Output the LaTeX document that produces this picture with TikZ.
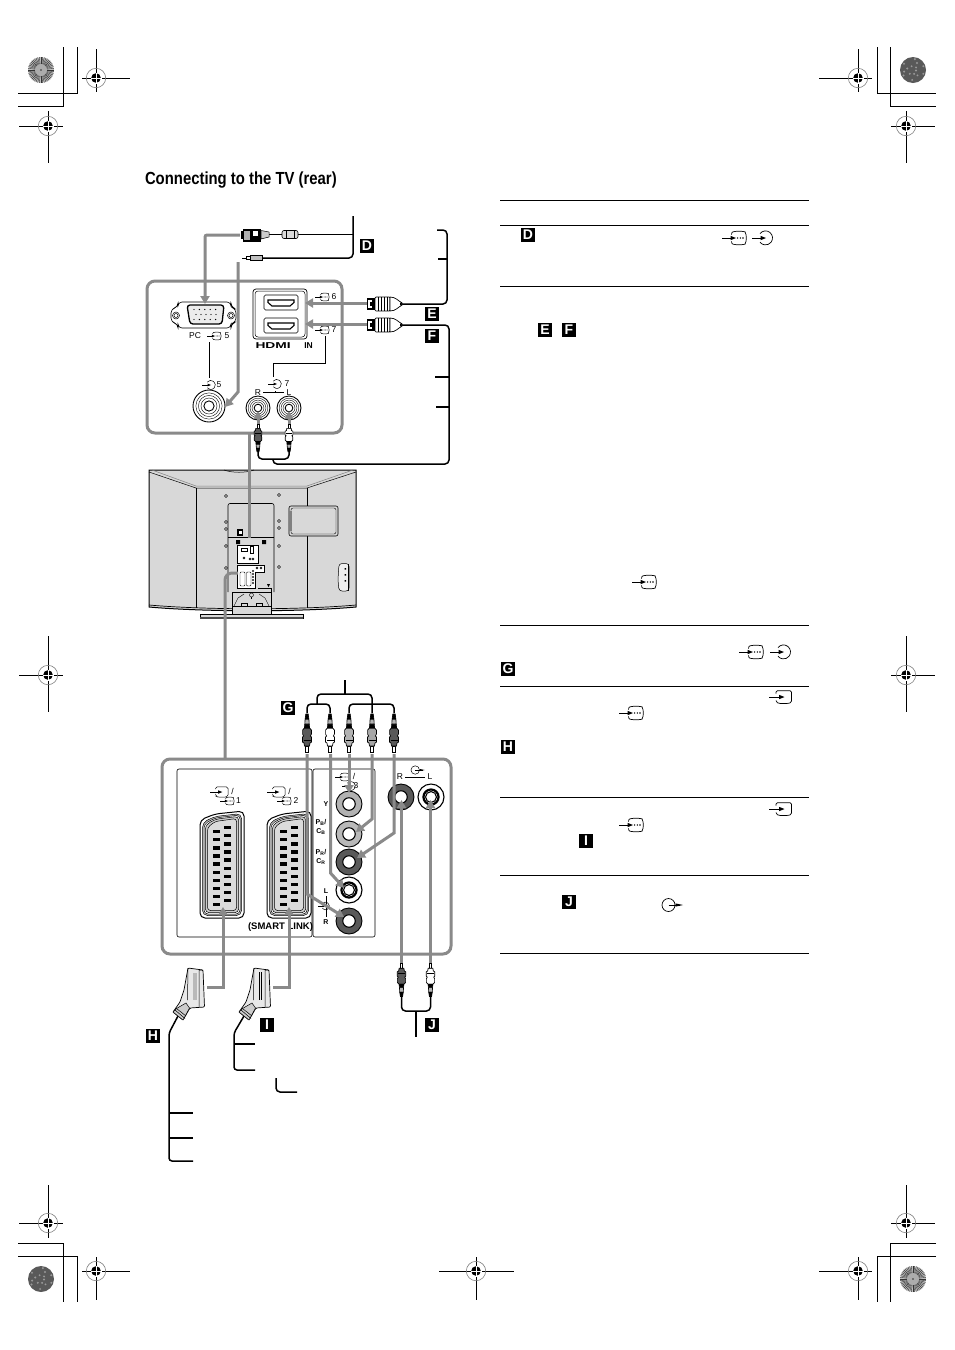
\documentclass[tikz,border=0pt]{standalone}
\usepackage{fontspec}
\setmainfont{Liberation Sans}
\usetikzlibrary{arrows.meta}
\definecolor{cbl}{HTML}{8A8A8A}
\definecolor{tvg}{HTML}{D8D8D8}
\tikzset{
  every node/.style={inner sep=0pt,outer sep=0pt},
  cable/.style={draw=cbl,line width=3pt},
  garrow/.style={draw=cbl,line width=3pt,-{Triangle[length=8pt,width=9pt]}},
  wire/.style={draw=black,line width=1.5pt,rounded corners=4pt},
  crop/.style={line width=.8pt},
  rule/.style={line width=.9pt},
  thinl/.style={line width=.5pt},
  tag/.style={fill=black,text=white,minimum width=14.5pt,minimum height=14.5pt,font=\bfseries\fontsize{14}{14}\selectfont},
  lab/.style={font=\fontsize{8.5}{8.5}\selectfont},
  labb/.style={font=\bfseries\fontsize{7}{7}\selectfont},
}
\newcommand\regm[6]{%
  \draw[crop] (#1-#3,#2)--(#1+#4,#2) (#1,#2-#5)--(#1,#2+#6);
  \draw[gray,line width=.6pt] (#1,#2) circle (9.7);
  \fill (#1,#2) circle (4.8);
  \draw[white,line width=.7pt] (#1-5.5,#2)--(#1+5.5,#2) (#1,#2-5.5)--(#1,#2+5.5);
}
\newcommand\spokeball[2]{%
  \fill[gray!50] (#1,#2) circle (13);
  \foreach \a in {0,7.5,...,352.5}{\draw[line width=.4pt,black!80] (#1,#2) ++(\a:5.5) -- ++(\a:7.5);}
  \fill[gray!65] (#1,#2) circle (6);
  \fill[black!80] (#1,#2) circle (.9);
}
\newcommand\darkball[2]{%
  \fill[black!65] (#1,#2) circle (13);
  \foreach \a/\r in {10/3,50/7,95/10,130/5,170/9,215/11,250/4,300/8,340/11,20/11,75/4,150/11,195/6,280/11,320/4}{\fill[black!40] (#1,#2) ++(\a:\r) circle (1.1);}
}
% input symbols: origin at left end, vertically centred
\newcommand\symTV[4]{\begin{scope}[shift={(#1,#2)},scale=#3,line width=#4]
  \draw (0,0)--(10,0);\fill (8.5,-2.2)--(14,0)--(8.5,2.2)--cycle;
  \draw (9.5,-3.4) .. controls (9.6,-5) and (10,-6) .. (11,-6.2) .. controls (15,-7) and (19,-7) .. (23,-6.2) .. controls (24.8,-3) and (24.8,3) .. (23,6.2) .. controls (19,7) and (15,7) .. (11,6.2) .. controls (10,6) and (9.6,5) .. (9.5,3.4);
  \fill (15.6,0) circle (.8) (18.4,0) circle (.8) (21,0) circle (.8);
\end{scope}}
\newcommand\symIn[4]{\begin{scope}[shift={(#1,#2)},scale=#3,line width=#4]
  \draw (0,0)--(10,0);\fill (8.5,-2.2)--(14,0)--(8.5,2.2)--cycle;
  \draw (8,-4.4) arc[start angle=-142,end angle=142,radius=7] ;
\end{scope}}
\newcommand\symBox[4]{\begin{scope}[shift={(#1,#2)},scale=#3,line width=#4]
  \draw (0,0)--(11,0);\fill (10,-2.2)--(15.5,0)--(10,2.2)--cycle;
  \draw[rounded corners=1.5pt] (7,-3.5)--(7,-6.3)--(22.5,-6.3)--(22.5,5.5)--(19,6.5)--(10,6.5)--(7,5)--(7,3.5);
\end{scope}}
\newcommand\symOut[4]{\begin{scope}[shift={(#1,#2)},scale=#3,line width=#4]
  \draw (6.5,0) circle (6.5);
  \draw (6.5,0)--(18,0);\fill (13.5,-1.6)--(21,0)--(13.5,1.6)--cycle;
\end{scope}}
% RCA plug: tip at (#1,#2), #3 direction (1 = cable below tip, -1 = cable above), #4 fill, #5 length scale
\newcommand\rca[5]{\begin{scope}[shift={(#1,#2)},xscale={(1+#5)/2},yscale=#3*#5,line width=.6pt]
  \draw[fill=white] (-1.3,0)--(1.3,0)--(1.3,6)--(-1.3,6)--cycle;
  \draw[fill=#4,line width=.7pt] (-2.5,6)--(2.5,6)--(3,9)--(4.5,10)--(4.5,15)--(3.4,16)--(4.4,18)--(4.4,22)--(2.6,24)--(-2.6,24)--(-4.4,22)--(-4.4,18)--(-3.4,16)--(-4.5,15)--(-4.5,10)--(-3,9)--cycle;
  \draw[fill=black] (-2.6,24)--(2.6,24)--(2.2,28)--(-2.2,28)--cycle;
  \draw[fill=gray!60] (-2.2,28)--(2.2,28)--(1.9,33)--(-1.9,33)--cycle;
  \draw[fill=black] (-1.9,33)--(1.9,33)--(1.2,38)--(-1.2,38)--cycle;
  \draw[line width=.4pt] (-3.5,12)--(3.5,12);
\end{scope}}
\newcommand\jackd[4]{%
  \draw[line width=.9pt,fill=#4] (#1,#2) circle (#3);
  \draw[line width=1.1pt,fill=white] (#1,#2) circle (.48*#3);
}
\newcommand\jackw[3]{%
  \draw[line width=.9pt,fill=white] (#1,#2) circle (#3);
  \draw[line width=.4pt] (#1,#2) circle (.82*#3);
  \draw[line width=.4pt] (#1,#2) circle (.66*#3);
  \draw[line width=.4pt] (#1,#2) circle (.5*#3);
  \draw[line width=.9pt,fill=white] (#1,#2) circle (.32*#3);
}
\newcommand\jackl[3]{%
  \draw[line width=1.1pt,fill=white] (#1,#2) circle (#3);
  \draw[line width=2.2pt] (#1,#2) circle (.58*#3);
  \draw[line width=1.1pt,fill=white] (#1,#2) circle (.42*#3);
}
\newcommand\hdmiplug[2]{\begin{scope}[shift={(#1,#2)},line width=.7pt]
  \fill (0,-6.2) rectangle (8,6.2);
  \fill[white] (1.4,-3.8) rectangle (5,3.8);
  \fill (3,-1.6) rectangle (8,1.6);
  \draw[fill=white,rounded corners=1pt] (8,-7) rectangle (23,7);
  \foreach \v in {11,14,17,20}{\draw[line width=.9pt] (\v,-7)--(\v,7);}
  \draw[fill=white] (23,-7) .. controls (29,-7) and (31,-3) .. (35,-1.2) -- (35,1.2) .. controls (31,3) and (29,7) .. (23,7) -- cycle;
  \fill (33,-1.6) -- (36,0) -- (33,1.6) -- cycle;
\end{scope}}
\newcommand\scartsh[2]{% centre x, inset
  (#1-22+#2,820+#2) -- (#1-7,814+#2) -- (#1+22-#2,811+#2) -- (#1+22-#2,918-#2) -- (#1-22+#2,918-#2) -- cycle}
\newcommand\scart[1]{%
  \draw[line width=1pt,fill=white,rounded corners=5pt] \scartsh{#1}{0};
  \draw[line width=.5pt,fill=gray!45,rounded corners=5pt] \scartsh{#1}{2.5};
  \draw[line width=.5pt,fill=white,rounded corners=4pt] \scartsh{#1}{4};
  \draw[line width=.5pt,fill=gray!40,rounded corners=4pt] \scartsh{#1}{5.3};
  \draw[line width=.5pt,fill=gray!28,rounded corners=3pt] \scartsh{#1}{7.5};
  \foreach \k in {0,...,9}{
    \fill (#1-9.5,830+8.1*\k) rectangle ++(7.5,3.3);
    \fill (#1+1.7,826+8.1*\k) rectangle ++(7.5,3.3);
  }
}
\newcommand\scartplug[1]{\begin{scope}[shift={(#1,0)},line width=.7pt]
  \draw[fill=gray!18,rounded corners=1pt] (188,968)--(203,970)--(204.5,1007)--(190,1008)--(183,1020)--(173,1012)--(180,1002)--(184,990)--cycle;
  \draw[line width=.5pt,fill=gray!40] (176.5,1008.5)--(186,1003)--(189.5,1008)--(183,1020)--(173,1012)--cycle;
  \draw[line width=.5pt] (175,1010)--(185,1018.5) (176.5,1008.5)--(186,1016);
  \draw[line width=.5pt] (188,968)--(187.5,1000) (203,970)--(199,970)--(199,1007);
\end{scope}}
\begin{document}
\begin{tikzpicture}[x=1pt,y=-1pt]
\useasboundingbox (0,0) rectangle (954,1350);
\fill[white] (0,0) rectangle (954,1350);
% ---- print marks
\draw[crop] (63,47)--(63,106)--(18,106) (77,47)--(77,93)--(18,93);
\draw[crop] (877,47)--(877,93)--(936,93) (890,47)--(890,106)--(936,106);
\draw[crop] (18,1243)--(63,1243)--(63,1302) (18,1256)--(77,1256)--(77,1302);
\draw[crop] (936,1243)--(890,1243)--(890,1302) (936,1256)--(877,1256)--(877,1302);
\regm{96}{78}{14}{34}{29}{14}
\regm{48}{126}{29}{15}{15}{37}
\regm{858}{78}{39}{14}{29}{14}
\regm{906}{126}{15}{29}{15}{37}
\regm{48}{1223}{29}{15}{38}{15}
\regm{96}{1271}{14}{34}{14}{29}
\regm{906}{1223}{15}{29}{38}{15}
\regm{858}{1271}{39}{14}{14}{29}
\regm{476}{1271}{37}{38}{14}{29}
\regm{48}{675}{29}{15}{39}{37}
\regm{906}{675}{15}{29}{39}{37}
\spokeball{41}{70}
\darkball{913}{70}
\darkball{41}{1279}
\spokeball{913}{1279}
% ---- title
\node[anchor=west] (title) at (145,180) {\scalebox{.85}[1]{\bfseries\fontsize{17.5}{18}\selectfont Connecting to the TV (rear)}};
% ---- right column rules
\foreach \ry in {200,225,286,625,686,797,875,953}{\draw[rule] (500,\ry)--(809,\ry);}
\node[tag] (tD2) at (528,235) {D};
\node[tag] (tE2) at (545,330) {E};
\node[tag] (tF2) at (569,330) {F};
\node[tag] (tG2) at (508,669) {G};
\node[tag] (tH2) at (508,747) {H};
\node[tag] (tI2) at (586,841) {I};
\node[tag] (tJ2) at (569,902) {J};
\symTV{722}{238}{1}{.7pt}\symIn{752}{238}{1}{.7pt}
\symTV{632}{582}{1}{.7pt}
\symTV{739}{652}{1}{.7pt}\symIn{770}{652}{1}{.7pt}
\symBox{769}{697}{1}{.7pt}\symTV{619}{713}{1}{.7pt}
\symBox{769}{809}{1}{.7pt}\symTV{619}{825}{1}{.7pt}
\symOut{662}{905}{1}{.7pt}
% ---- TV rear
\draw[line width=1pt,fill=tvg] (149,470)--(356,470)--(356,607) .. controls (300,612) and (205,612) .. (149,607)--cycle;
\draw[line width=.5pt] (149,472)--(196,488)--(307,488)--(356,472);
\draw[line width=.5pt,gray] (152,470)--(196,486)--(307,486)--(353,470);
\draw[line width=.7pt] (196,488)--(196,608) (307,488)--(307,608);
\draw[line width=.7pt] (149,605) .. controls (205,610) and (300,610) .. (356,605);
\draw[line width=.5pt] (224,470) .. controls (232,473) and (246,473) .. (254,470);
\draw[line width=.6pt,rounded corners=2pt] (228,592)--(228,503.5)--(274,503.5)--(274,592);
\draw[line width=.5pt] (228,537)--(274,537);
\fill (237,529) rectangle (243,536);
\fill[white] (238.5,530.5) rectangle (241.5,534);
\fill (236,540) rectangle (240,544) (262,540) rectangle (266,544);
\draw[line width=1pt,fill=white] (237,545) rectangle (258,563);
\draw[line width=.4pt] (241,548.5) rectangle (247,551.5) (250,546.5) rectangle (253,553);
\draw[line width=.4pt] (244,558) circle (1) (250,559) circle (1) (253,559) circle (1);
\draw[line width=1pt,fill=white] (237,565.5)--(264,565.5)--(264,572)--(255,572)--(255,588)--(237,588)--cycle;
\draw[line width=.4pt,rounded corners=1pt] (240,572) rectangle (245,586) (246.5,572) rectangle (251,586);
\foreach \v in {571,574,577,580,583}{\draw[line width=.4pt] (253,\v) circle (.8);}
\foreach \v in {568}{\draw[line width=.4pt] (257,\v) circle (1) (261,\v) circle (1);}
\draw[line width=.7pt] (258,588)--(271,588)--(271,592)--(258,592);
\fill (267,584)--(270,584)--(268.5,587)--cycle;
\draw[line width=.6pt] (232,606)--(232,592)--(271,592)--(271,606);
\draw[line width=.4pt] (234,606)--(238,598)--(244,594) (269,606)--(265,598)--(259,594);
\draw[line width=.4pt] (241,606)--(241,603)--(247,603)--(247,606) (256,606)--(256,603)--(262,603)--(262,606);
\draw[line width=.4pt] (251.5,595) circle (2);
\fill (251,597) rectangle (252,599);
\foreach \hx/\hy in {226/496,279/495,226/522,226/529,279/521,279/528,226/546,279/546,226/568,279/567}{\draw[line width=.4pt,fill=white] (\hx,\hy-1.5)--(\hx+1.5,\hy)--(\hx,\hy+1.5)--(\hx-1.5,\hy)--cycle;}
\draw[line width=.6pt,rounded corners=2pt,fill=tvg] (289,506) rectangle (338,536);
\draw[line width=.4pt,rounded corners=2pt] (291,508) rectangle (336,534);
\fill[gray] (289,511) rectangle (291.5,531);
\draw[line width=.5pt,rounded corners=3pt,fill=white!60!tvg] (339,563.5)--(349,563.5)--(349,591)--(339,591)--(338,580)--cycle;
\fill (347.5,563.5) rectangle (349,591);
\fill (344.5,568) rectangle (346,569.5) (344.5,574) rectangle (346,575.5) (344.5,580) rectangle (346,581.5);
\draw[line width=.7pt,fill=tvg] (232,606) rectangle (271,614);
\draw[line width=.7pt,fill=tvg] (200,614) rectangle (303,618);
\fill[black!70] (200,617) rectangle (303,618.5);
% ---- upper panel
\draw[cable,rounded corners=8pt] (147,281) rectangle (342,433);
\draw[cable] (249.5,433)--(249.5,538);
\draw[cable,rounded corners=7pt] (238,573)--(225,573)--(225,759);
% VGA
\draw[line width=.6pt,rounded corners=4pt] (178,302)--(231,302)--(231,307) -- (236,309) -- (236,322) -- (231,324)--(231,328)--(178,328)--(178,324)--(171,322)--(171,309)--(178,307)--cycle;
\draw[line width=.5pt] (176,315.5) circle (3.5) (176,315.5) circle (2);
\draw[line width=.5pt] (231,315.5) circle (3.5) (231,315.5) circle (2);
\draw[line width=1.3pt,rounded corners=3pt,fill=gray!15] (187,305)--(224,305)--(222,324)--(190,324)--cycle;
\foreach \a in {0,...,4}{\fill (194+\a*5.4,309.5) circle (.7) (196+\a*5,314.5) circle (.7) (194+\a*5.4,319.5) circle (.7);}
\node[lab] (pc) at (195,336) {PC};
\symTV{207}{336}{.58}{.5pt}
\node[lab] (n5a) at (227,336) {5};
\draw[thinl] (209,342)--(209,378);
\symIn{202}{385}{.65}{.5pt}
\node[lab] (n5b) at (219,385) {5};
\jackw{209}{406}{16}
% HDMI
\draw[line width=.7pt,rounded corners=3pt] (253,289) rectangle (307,339);
\draw[line width=.5pt,rounded corners=3pt] (255,291) rectangle (305,337);
\foreach \py in {295,318}{
  \draw[line width=.6pt,rounded corners=1.5pt,fill=white] (264,\py) rectangle (298,\py+15);
  \draw[line width=1.1pt] (268,\py+5)--(294,\py+5)--(294,\py+7.5)--(290,\py+11)--(272,\py+11)--(268,\py+7.5)--cycle;
}
\symTV{315}{297}{.58}{.5pt}
\node[lab] (n6) at (334,297) {6};
\symTV{315}{330}{.58}{.5pt}
\node[lab] (n7a) at (334,330) {7};
\node[anchor=west,font=\bfseries\fontsize{8.5}{8.5}\selectfont] (hdmi) at (255.5,346) {\scalebox{1.62}[1]{HDMI}};
\node[font=\bfseries\fontsize{8.5}{8.5}\selectfont] (in) at (308.5,346) {IN};
\draw[thinl] (325,336)--(325,363)--(273,363)--(273,377);
\symIn{268}{384}{.65}{.5pt}
\node[lab] (n7b) at (287,384) {7};
\draw[thinl] (275,391)--(275,392) (263,392.5)--(284,392.5);
\node[lab] (rU) at (258,392.5) {R};
\node[lab] (lU) at (289,392.5) {L};
\jackw{258}{408}{12}
\jackw{289}{408}{12}
% cables top
\draw[wire] (353,216)--(353,258)--(261,258);
\draw[wire] (268,234.5)--(353,234.5);
\draw[line width=.6pt,rounded corners=2pt,fill=gray!30] (282,230.5) rectangle (298,238.5);
\draw[line width=.4pt] (286,230.5)--(286,238.5) (294,230.5)--(294,238.5);
\fill (243,228.5) rectangle (261,241.5);
\fill[gray!60] (244,230.5) rectangle (250,239.5);
\fill[white] (253,231) rectangle (258,235.5);
\fill (241,231) rectangle (243,239);
\draw[line width=.5pt,fill=gray!40] (261,230.5)--(269,232)--(269,237)--(261,239)--cycle;
\draw[line width=.5pt,fill=white] (246,256.5) rectangle (250,259.5);
\draw[line width=.5pt,fill=gray!50] (250,255.5) rectangle (262,260.5);
\draw[line width=.8pt] (242,258)--(247,258);
\draw[garrow,rounded corners=2pt] (240,235)--(205,235)--(205,304);
\draw[garrow] (238,262)--(238,392)--(225,407);
\draw[wire] (402,304)--(447,304)--(447,230)--(437,230);
\draw[line width=1.5pt] (438,259)--(447,259);
\draw[wire] (402,325)--(449,325)--(449,464)--(273,464)--(273,459);
\draw[line width=1.5pt] (435,377)--(449,377) (436,407)--(449,407);
\draw[garrow] (367,303)--(305,303);
\draw[garrow] (367,324)--(305,324);
\hdmiplug{367}{304}
\hdmiplug{367}{325}
\draw[wire] (258,450)--(258,459)--(289,459)--(289,450);
\draw[garrow] (258,428)--(258,411);
\draw[garrow] (289,428)--(289,411);
\rca{258}{424}{1}{black!65}{.73}
\rca{289}{424}{1}{white}{.73}
\node[tag] (tD) at (367,246) {D};
\node[tag] (tE) at (432,314) {E};
\node[tag] (tF) at (432,336) {F};
% ---- lower panel
\draw[cable,rounded corners=8pt] (162,759) rectangle (451,954);
\draw[line width=.6pt,rounded corners=2pt] (177,769) rectangle (312,937);
\draw[line width=.6pt,rounded corners=2pt] (313,769) rectangle (375,937);
\scart{222}
\scart{289}
\symBox{210}{792}{.8}{.5pt}
\node[lab] (sl1) at (232.5,791) {/};
\symTV{220}{801}{.58}{.5pt}
\node[lab] (s1) at (238.5,801) {1};
\symBox{267}{792}{.8}{.5pt}
\node[lab] (sl2) at (289.5,791) {/};
\symTV{277}{801}{.58}{.5pt}
\node[lab] (s2) at (296,801) {2};
\symTV{335}{777}{.58}{.5pt}
\node[lab] (sl3) at (354,776) {/};
\symIn{342}{786}{.65}{.5pt}
\node[lab] (n3) at (356,786) {3};
\node[font=\bfseries\fontsize{9.5}{9.5}\selectfont] (sm) at (280.5,927) {(SMART LINK)};
\node[labb] (Y) at (326,804) {Y};
\node[labb,align=center] (pb) at (321,827) {P\textsubscript{B}/\\[1.5pt]C\textsubscript{B}};
\node[labb,align=center] (pr) at (321,857) {P\textsubscript{R}/\\[1.5pt]C\textsubscript{R}};
\node[labb] (Lb) at (326,891) {L};
\node[labb] (Rb) at (326,922) {R};
\draw[thinl] (326,896)--(326,917);
\symIn{318}{906}{.55}{.5pt}
\jackd{349}{804}{13}{gray!60}
\jackd{349}{834}{13}{gray!55}
\jackd{349}{862}{13}{black!65}
\jackl{349}{890}{13}
\jackd{349}{921}{13}{black!65}
\jackd{401}{797}{13}{black!65}
\jackl{431}{797}{13}
\node[lab] (Rr) at (400,777) {R};
\node[lab] (Lr) at (430,777) {L};
\draw[thinl] (405,777.5)--(425,777.5);
\symOut{411}{770}{.65}{.5pt}
% G cable
\draw[wire] (345,680)--(345,694);
\draw[wire] (317,704)--(317,694)--(372,694)--(372,713);
\draw[wire] (307,713)--(307,704)--(330,704)--(330,713);
\draw[wire] (349,713)--(349,704)--(394,704)--(394,713);
\draw[garrow] (349,754)--(349,793);
\draw[garrow] (372,754)--(372,819)--(356,832);
\draw[garrow] (394,754)--(394,833)--(357,858);
\draw[garrow] (330.5,754)--(330.5,873)--(344,888);
\draw[garrow] (307,754)--(307,894)--(344,917);
\rca{307}{752}{-1}{black!65}{1}
\rca{330}{752}{-1}{white}{1}
\rca{349}{752}{-1}{gray!60}{1}
\rca{372}{752}{-1}{gray!70}{1}
\rca{394}{752}{-1}{black!65}{1}
\node[tag] (tG) at (288,708) {G};
% lower arrows
\draw[garrow] (207,987)--(223,987)--(223,907);
\draw[garrow] (273,987)--(289,987)--(289,907);
\draw[garrow] (401.5,965)--(401.5,800);
\draw[garrow] (430.5,965)--(430.5,800);
\rca{401.5}{963}{1}{black!65}{.88}
\rca{430.5}{963}{1}{white}{.88}
\draw[wire] (401.5,997)--(401.5,1011)--(430.5,1011)--(430.5,997);
\draw[line width=1.5pt] (416,1011)--(416,1037);
\draw[wire,rounded corners=3pt] (178,1016)--(169,1033)--(169,1161)--(193,1161);
\draw[line width=1.5pt] (169,1113)--(193,1113) (169,1138)--(193,1138);
\draw[wire,rounded corners=3pt] (244,1016)--(234,1033)--(234,1070)--(255,1070);
\draw[line width=1.5pt] (234,1044)--(255,1044);
\draw[wire] (276,1078)--(276,1092)--(297,1092);
\scartplug{0}
\scartplug{66}
\fill[gray!55] (193,973) rectangle (196.5,1000);
\draw[line width=.4pt] (259,972)--(259,1000) (261,972)--(261,1000);
\node[tag] (tH) at (153,1036) {H};
\node[tag] (tI) at (267,1025) {I};
\node[tag] (tJ) at (432,1025) {J};
\end{tikzpicture}
\end{document}
